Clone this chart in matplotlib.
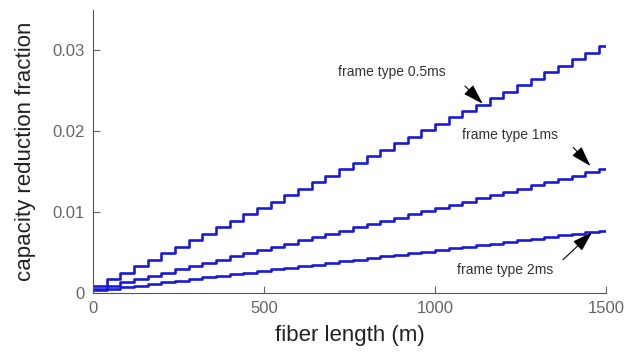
import matplotlib.pyplot as plt

# fiber length at each step edge (m), last entry closes the final step
fiber_length = [0, 40, 80, 120, 160, 200, 240, 280, 320, 360, 400, 440, 480, 520,
                560, 600, 640, 680, 720, 760, 800, 840, 880, 920, 960, 1000, 1040,
                1080, 1120, 1160, 1200, 1240, 1280, 1320, 1360, 1400, 1440, 1480, 1500]

# capacity reduction fraction held on each step
frame_05ms = [0.0009, 0.0017, 0.0025, 0.0033, 0.0041, 0.0049, 0.0057, 0.0065,
              0.0073, 0.0081, 0.0089, 0.0097, 0.0105, 0.0113, 0.0121, 0.0129,
              0.0137, 0.0145, 0.0153, 0.0161, 0.0169, 0.0177, 0.0185, 0.0193,
              0.0201, 0.0209, 0.0217, 0.0225, 0.0233, 0.0241, 0.0249, 0.0257,
              0.0265, 0.0273, 0.0281, 0.0289, 0.0297, 0.0305, 0.0305]
frame_1ms = [0.0005, 0.0009, 0.0013, 0.0017, 0.0021, 0.0025, 0.0029, 0.0033,
             0.0037, 0.0041, 0.0045, 0.0049, 0.0053, 0.0057, 0.0061, 0.0065,
             0.0069, 0.0073, 0.0077, 0.0081, 0.0085, 0.0089, 0.0093, 0.0097,
             0.0101, 0.0105, 0.0109, 0.0113, 0.0117, 0.0121, 0.0125, 0.0129,
             0.0133, 0.0137, 0.0141, 0.0145, 0.0149, 0.0153, 0.0153]
frame_2ms = [0.0003, 0.0005, 0.0007, 0.0009, 0.0011, 0.0013, 0.0015, 0.0017,
             0.0019, 0.0021, 0.0023, 0.0025, 0.0027, 0.0029, 0.0031, 0.0033,
             0.0035, 0.0037, 0.0039, 0.0041, 0.0043, 0.0045, 0.0047, 0.0049,
             0.0051, 0.0053, 0.0055, 0.0057, 0.0059, 0.0061, 0.0063, 0.0065,
             0.0067, 0.0069, 0.0071, 0.0073, 0.0075, 0.0077, 0.0077]

x_ticks = [0, 500, 1000, 1500]
y_ticks = [0, 0.01, 0.02, 0.03]
y_tick_labels = ['0', '0.01', '0.02', '0.03']

plt.rcParams['font.family'] = ['Liberation Sans', 'DejaVu Sans']

fig = plt.figure(figsize=(6.33, 3.58), dpi=100)
ax = fig.add_axes([0.147, 0.182, 0.81, 0.79])

line_color = '#1a1ad6'
for series in (frame_05ms, frame_1ms, frame_2ms):
    ax.step(fiber_length, series, where='post', color=line_color, lw=1.9)

ax.set_xlim(0, 1500)
ax.set_ylim(0, 0.035)
ax.set_xticks(x_ticks)
ax.set_yticks(y_ticks)
ax.set_yticklabels(y_tick_labels)
ax.tick_params(direction='in', length=5, colors='#666666', labelsize=12, pad=6)

for side in ('top', 'right'):
    ax.spines[side].set_visible(False)
for side in ('left', 'bottom'):
    ax.spines[side].set_color('#555555')

ax.set_xlabel('fiber length (m)', fontsize=16, color='#222222', labelpad=6)
ax.set_ylabel('capacity reduction fraction', fontsize=16, color='#222222', labelpad=12)

# annotations with arrows
arrow = dict(arrowstyle='-|>,head_length=0.7,head_width=0.22', color='black',
             lw=0.8, mutation_scale=18, shrinkA=0, shrinkB=0)
text_kw = dict(fontsize=10, color='#333333', ha='center', va='center')

ax.text(874, 0.0273, 'frame type 0.5ms', **text_kw)
ax.annotate('', xy=(1140, 0.0234), xytext=(1088, 0.0256), arrowprops=arrow)

ax.text(1219, 0.0195, 'frame type 1ms', **text_kw)
ax.annotate('', xy=(1455, 0.0157), xytext=(1405, 0.0180), arrowprops=arrow)

ax.text(1205, 0.0028, 'frame type 2ms', **text_kw)
ax.annotate('', xy=(1460, 0.0075), xytext=(1375, 0.0041), arrowprops=arrow)

fig.savefig('out.png', dpi=100)
